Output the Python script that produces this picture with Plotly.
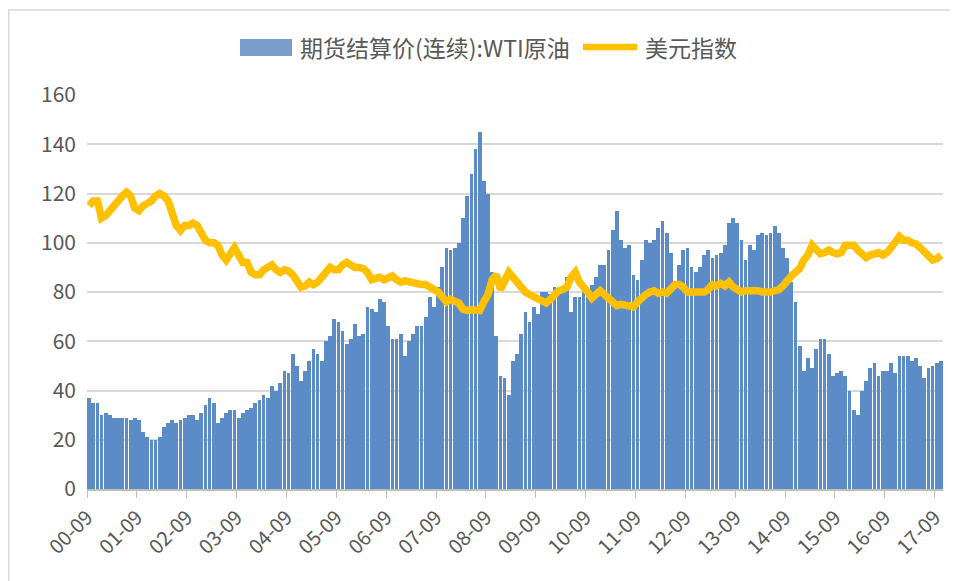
import plotly.graph_objects as go

start_year = 2000
start_month = 9

wti = [
    37, 35, 35, 30,
    31, 30, 29, 29, 29, 29, 28, 29, 28, 23, 21, 20,
    20, 21, 25, 27, 28, 27, 28, 29, 30, 30, 28, 31,
    34, 37, 35, 27, 29, 31, 32, 32, 29, 31, 32, 33,
    35, 36, 38, 37, 42, 40, 43, 48, 47, 55, 50, 44,
    48, 52, 57, 55, 52, 60, 62, 69, 68, 64, 59, 61,
    67, 62, 63, 74, 73, 72, 77, 76, 66, 61, 61, 63,
    54, 60, 63, 66, 66, 70, 78, 74, 82, 90, 98, 97,
    98, 100, 110, 119, 128, 138, 145, 125, 120, 88, 62, 46,
    45, 38, 52, 55, 63, 72, 68, 74, 71, 80, 80, 79,
    82, 80, 82, 86, 72, 78, 78, 80, 78, 83, 86, 91,
    91, 97, 105, 113, 101, 98, 99, 87, 85, 93, 101, 100,
    101, 106, 109, 104, 96, 84, 91, 97, 98, 90, 88, 90,
    95, 97, 94, 95, 96, 99, 108, 110, 108, 101, 93, 99,
    97, 103, 104, 103, 104, 107, 104, 98, 94, 84, 76, 58,
    48, 53, 49, 57, 61, 61, 55, 46, 47, 48, 46, 40,
    32, 30, 40, 44, 49, 51, 46, 48, 48, 51, 47, 54,
    54, 54, 52, 53, 50, 45, 49, 50, 51, 52,
]

usd_index = [
    115, 117, 117, 110,
    111, 113, 116, 117, 119, 120.5, 119, 114, 113, 115, 116, 117,
    119, 120, 119, 117, 112, 107, 105, 107, 107, 108, 107, 104,
    101, 100, 100, 99, 95, 93, 95, 98, 95, 92, 92, 88,
    87, 87, 89, 90, 91, 89, 88, 89, 88.5, 87, 84, 82,
    82.5, 84, 83, 84, 86, 88.5, 90, 89, 89, 91, 92, 91,
    90, 90, 89.5, 88, 85, 85.5, 86, 85, 86, 86.5, 85, 84,
    84.5, 84, 83.5, 83, 83, 83, 82, 81, 80, 78, 76, 77,
    76, 75.5, 73, 72.5, 72.8, 73, 72.5, 76, 79, 85, 87, 81,
    85, 88, 86, 84, 81, 80, 79, 78, 77, 76, 75.5, 77,
    79, 80.5, 81, 82, 86, 88, 84, 82.5, 80, 77.5, 79, 80.5,
    79, 77.5, 76.5, 74.5, 75, 74.5, 74.5, 74, 76, 78, 79, 80,
    80.5, 79.5, 80, 79.5, 81, 83, 83, 82, 80, 80, 80.5, 80,
    80, 81, 83, 82.5, 83.5, 82.5, 84, 82, 81, 80, 80.5, 80.5,
    81, 80.5, 80, 79.7, 80, 80.5, 81, 82.5, 85, 86.5, 88, 89.5,
    93, 95, 99, 97, 95.5, 96, 97, 96, 95.5, 96, 99, 99,
    99, 97, 95, 94, 95, 95.5, 96, 95, 96, 98, 100, 102.5,
    101, 101, 100, 99.5, 98, 96, 94, 93, 93.5, 95,
]

oil_name = "期货结算价(连续):WTI原油"
usd_name = "美元指数"

BAR_COLOR = "#5B8CC8"
LINE_COLOR = "#FFC000"
TEXT_COLOR = "#595959"

n = len(wti)
months = [((start_month - 1 + i) % 12 + 1, start_year + (start_month - 1 + i) // 12) for i in range(n)]
xpos = [i + 0.5 for i in range(n)]
tick_idx = [i for i in range(n) if months[i][0] == start_month]
tick_text = ["%02d-%02d" % (months[i][1] % 100, months[i][0]) for i in tick_idx]

font_family = "Noto Sans CJK SC, Noto Sans, sans-serif"

# The page body has an 8px margin; the figure is sized to fill the rest of the window.
OFF = 8
W, H = 958 - OFF, 581 - OFF
# plot area in window pixels: x 87..943, y 95..489
L = 87 - OFF
T = 95 - OFF
R = W - (943 - OFF)
B = H - (489 - OFF)
pw, ph = W - L - R, H - T - B


def px(x):
    return (x - OFF - L) / pw


def py(y):
    return (H - B - (y - OFF)) / ph


fig = go.Figure()
fig.add_trace(go.Bar(
    x=xpos, y=wti, name=oil_name, width=0.9,
    marker=dict(color=BAR_COLOR, line=dict(width=0)),
))
fig.add_trace(go.Scatter(
    x=xpos, y=usd_index, name=usd_name, mode="lines",
    line=dict(color=LINE_COLOR, width=7.5),
))

legend_y = py(47)
shapes = [
    dict(type="rect", xref="paper", yref="paper",
         x0=px(OFF + 0.75), x1=px(955), y0=py(620), y1=py(10),
         line=dict(color="#D9D9D9", width=1.5), fillcolor="rgba(0,0,0,0)", layer="below"),
    dict(type="rect", xref="paper", yref="paper",
         x0=px(240), x1=px(292), y0=py(56), y1=py(39),
         line=dict(width=0), fillcolor="#7A9DCB"),
    dict(type="line", xref="paper", yref="paper",
         x0=px(583), x1=px(637), y0=legend_y, y1=legend_y,
         line=dict(color=LINE_COLOR, width=6.5)),
]
annotations = [
    dict(text=oil_name, xref="paper", yref="paper", x=px(298), y=legend_y,
         xanchor="left", yanchor="middle", showarrow=False,
         font=dict(size=23, color=TEXT_COLOR, family=font_family)),
    dict(text=usd_name, xref="paper", yref="paper", x=px(643), y=legend_y,
         xanchor="left", yanchor="middle", showarrow=False,
         font=dict(size=23, color=TEXT_COLOR, family=font_family)),
]

fig.update_layout(
    width=W, height=H,
    margin=dict(l=L, r=R, t=T, b=B, autoexpand=False),
    paper_bgcolor="white", plot_bgcolor="white",
    font=dict(family=font_family, color=TEXT_COLOR, size=17),
    bargap=0,
    showlegend=False,
    xaxis=dict(
        range=[0, n], tickmode="array", tickvals=tick_idx, ticktext=tick_text,
        tickangle=-45, showgrid=False, zeroline=False, automargin=False,
        showline=True, linecolor="#BFBFBF", linewidth=1.5,
        ticks="outside", ticklen=7, tickcolor="#BFBFBF",
        tickfont=dict(size=20, color=TEXT_COLOR),
    ),
    yaxis=dict(
        range=[0, 160], dtick=20, showgrid=True, gridcolor="#D9D9D9", gridwidth=1.5,
        zeroline=False, showline=False, ticks="", automargin=False,
        tickfont=dict(size=21, color=TEXT_COLOR), ticklabelstandoff=10,
    ),
    shapes=shapes,
    annotations=annotations,
)

fig.write_html("out.html")
